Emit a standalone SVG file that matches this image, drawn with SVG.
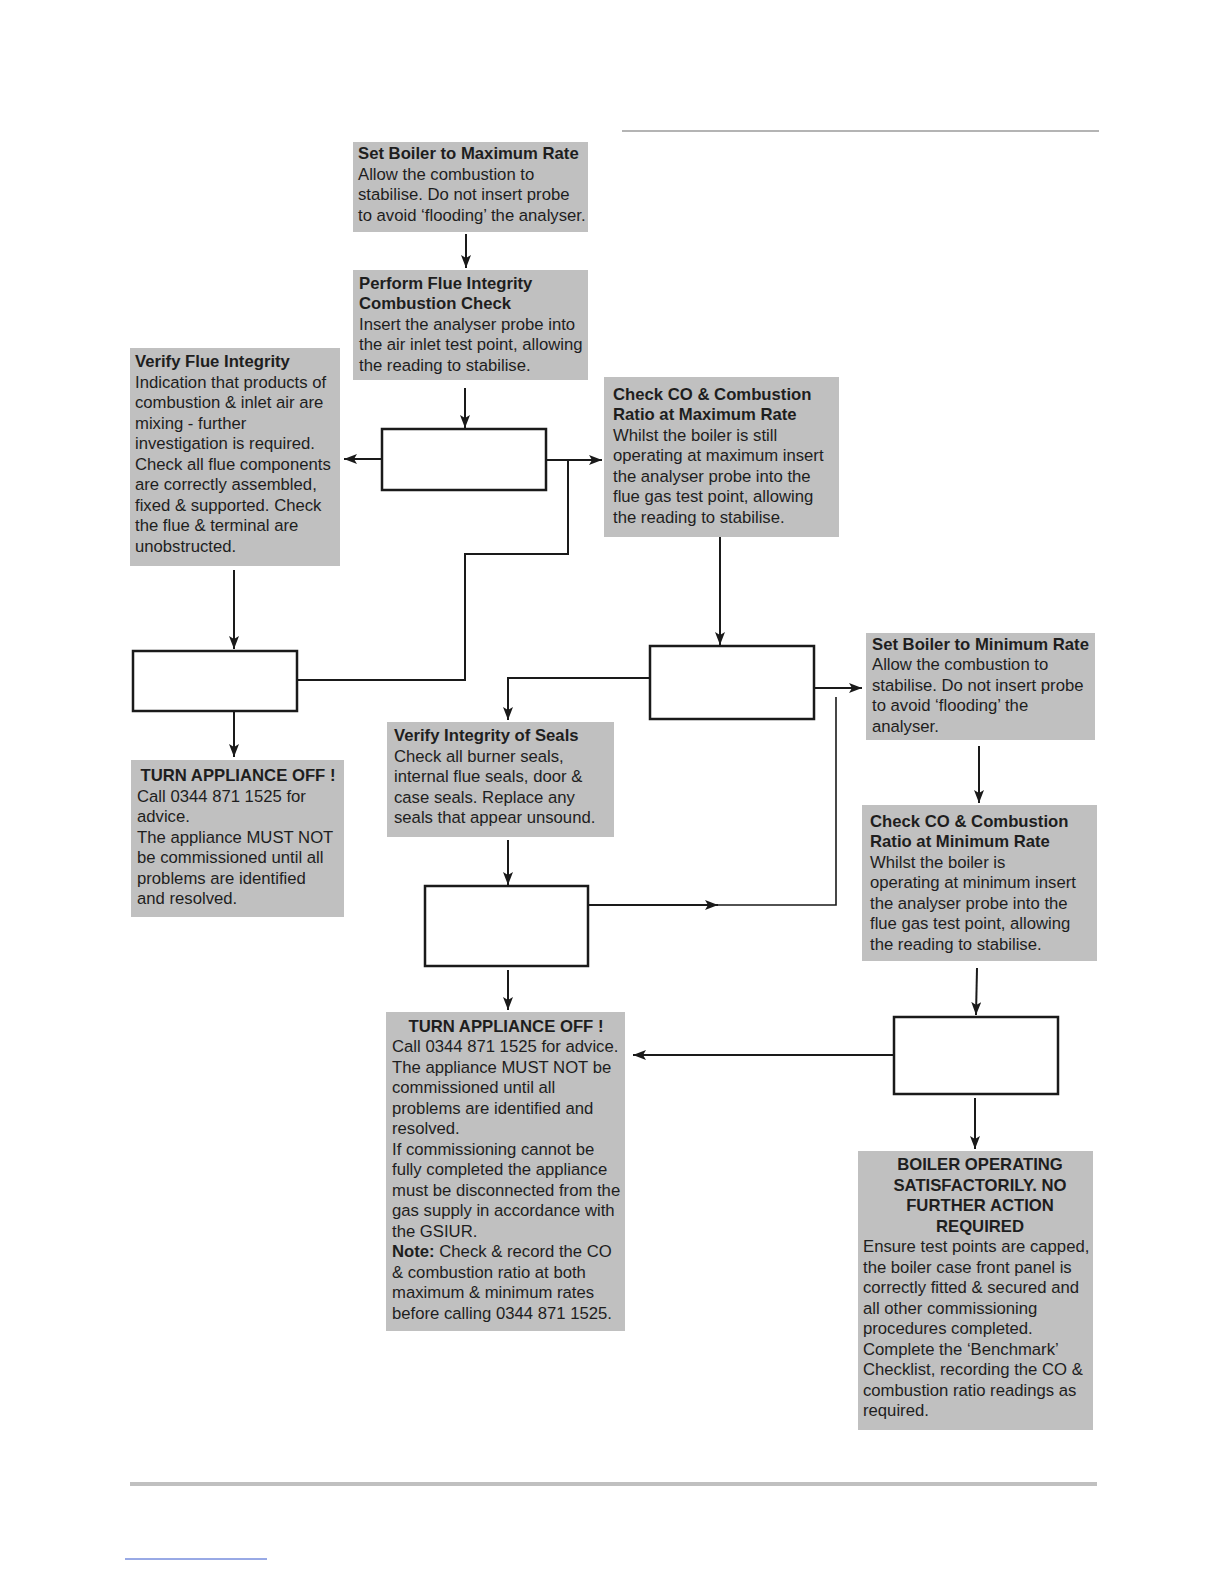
<svg xmlns="http://www.w3.org/2000/svg" width="1224" height="1584" viewBox="0 0 1224 1584">
<style>
.box{fill:#c0c0c0;stroke:none}
.dec{fill:#ffffff;stroke:#1a1a1a;stroke-width:2.5}
.t{font-family:"Liberation Sans",Arial,sans-serif;font-size:16.7px;fill:#1e1e1e}
.b{font-weight:bold}
.c{text-anchor:middle}
.ln{fill:none;stroke:#1a1a1a;stroke-width:2}
.thin{fill:none;stroke:#1a1a1a;stroke-width:1.6}
</style>
<defs>
<marker id="ah" viewBox="0 0 13 10" refX="13" refY="5" markerWidth="13" markerHeight="10" markerUnits="userSpaceOnUse" orient="auto">
<path d="M0,0 L13,5 L0,10 L3,5 Z" fill="#1a1a1a"/>
</marker>
</defs>
<rect width="1224" height="1584" fill="#ffffff"/>
<line x1="622" y1="131" x2="1099" y2="131" stroke="#b4b4b4" stroke-width="2"/>
<line x1="130" y1="1484" x2="1097" y2="1484" stroke="#c0c0c0" stroke-width="4"/>
<line x1="125" y1="1559" x2="267" y2="1559" stroke="#3355cc" stroke-width="1"/>

<g id="connectors">
<path class="ln" d="M466,234 V268" marker-end="url(#ah)"/>
<path class="ln" d="M465,388 V428" marker-end="url(#ah)"/>
<path class="ln" d="M382,459 H344" marker-end="url(#ah)"/>
<path class="ln" d="M546,460 H602" marker-end="url(#ah)"/>
<path class="ln" d="M568,460 V554 H465 V680 H285"/>
<path class="ln" d="M234,570 V649" marker-end="url(#ah)"/>
<path class="ln" d="M234,711 V757" marker-end="url(#ah)"/>
<path class="ln" d="M720,537 V645" marker-end="url(#ah)"/>
<path class="ln" d="M650,678 H508 V720" marker-end="url(#ah)"/>
<path class="ln" d="M814,688 H862" marker-end="url(#ah)"/>
<path class="ln" d="M588,905 H718" marker-end="url(#ah)"/>
<path class="thin" d="M716,905 H836 V697"/>
<path class="ln" d="M508,840 V885" marker-end="url(#ah)"/>
<path class="ln" d="M508,970 V1010" marker-end="url(#ah)"/>
<path class="ln" d="M979,746 V803" marker-end="url(#ah)"/>
<path class="ln" d="M977,968 L976,1015" marker-end="url(#ah)"/>
<path class="ln" d="M900,1055 H633" marker-end="url(#ah)"/>
<path class="ln" d="M975,1098 V1149" marker-end="url(#ah)"/>
</g>

<g id="set-max">
<rect class="box" x="353" y="142" width="235" height="90"/>
<text class="t" x="358"><tspan class="b" y="159">Set Boiler to Maximum Rate</tspan><tspan x="358" y="180">Allow the combustion to</tspan><tspan x="358" y="200">stabilise. Do not insert probe</tspan><tspan x="358" y="221">to avoid ‘flooding’ the analyser.</tspan></text>
</g>

<g id="flue-check">
<rect class="box" x="353" y="270" width="235" height="110"/>
<text class="t" x="359"><tspan class="b" y="289">Perform Flue Integrity</tspan><tspan class="b" x="359" y="309">Combustion Check</tspan><tspan x="359" y="330">Insert the analyser probe into</tspan><tspan x="359" y="350">the air inlet test point, allowing</tspan><tspan x="359" y="371">the reading to stabilise.</tspan></text>
</g>

<g id="decision-a"><rect class="dec" x="382" y="429" width="164" height="61"/></g>

<g id="verify-flue">
<rect class="box" x="130" y="348" width="210" height="218"/>
<text class="t" x="135"><tspan class="b" y="367">Verify Flue Integrity</tspan><tspan x="135" y="388">Indication that products of</tspan><tspan x="135" y="408">combustion &amp; inlet air are</tspan><tspan x="135" y="429">mixing - further</tspan><tspan x="135" y="449">investigation is required.</tspan><tspan x="135" y="470">Check all flue components</tspan><tspan x="135" y="490">are correctly assembled,</tspan><tspan x="135" y="511">fixed &amp; supported. Check</tspan><tspan x="135" y="531">the flue &amp; terminal are</tspan><tspan x="135" y="552">unobstructed.</tspan></text>
</g>

<g id="decision-b"><rect class="dec" x="133" y="651" width="164" height="60"/></g>

<g id="turn-off-1">
<rect class="box" x="131" y="760" width="213" height="157"/>
<text class="t"><tspan class="b c" x="238" y="781">TURN APPLIANCE OFF !</tspan><tspan x="137" y="802">Call 0344 871 1525 for</tspan><tspan x="137" y="822">advice.</tspan><tspan x="137" y="843">The appliance MUST NOT</tspan><tspan x="137" y="863">be commissioned until all</tspan><tspan x="137" y="884">problems are identified</tspan><tspan x="137" y="904">and resolved.</tspan></text>
</g>

<g id="check-max">
<rect class="box" x="604" y="377" width="235" height="160"/>
<text class="t" x="613"><tspan class="b" y="400">Check CO &amp; Combustion</tspan><tspan class="b" x="613" y="420">Ratio at Maximum Rate</tspan><tspan x="613" y="441">Whilst the boiler is still</tspan><tspan x="613" y="461">operating at maximum insert</tspan><tspan x="613" y="482">the analyser probe into the</tspan><tspan x="613" y="502">flue gas test point, allowing</tspan><tspan x="613" y="523">the reading to stabilise.</tspan></text>
</g>

<g id="decision-c"><rect class="dec" x="650" y="646" width="164" height="73"/></g>

<g id="verify-seals">
<rect class="box" x="387" y="722" width="227" height="115"/>
<text class="t" x="394"><tspan class="b" y="741">Verify Integrity of Seals</tspan><tspan x="394" y="762">Check all burner seals,</tspan><tspan x="394" y="782">internal flue seals, door &amp;</tspan><tspan x="394" y="803">case seals. Replace any</tspan><tspan x="394" y="823">seals that appear unsound.</tspan></text>
</g>

<g id="decision-d"><rect class="dec" x="425" y="886" width="163" height="80"/></g>

<g id="set-min">
<rect class="box" x="866" y="633" width="229" height="107"/>
<text class="t" x="872"><tspan class="b" y="650">Set Boiler to Minimum Rate</tspan><tspan x="872" y="670">Allow the combustion to</tspan><tspan x="872" y="691">stabilise. Do not insert probe</tspan><tspan x="872" y="711">to avoid ‘flooding’ the</tspan><tspan x="872" y="732">analyser.</tspan></text>
</g>

<g id="check-min">
<rect class="box" x="862" y="805" width="235" height="156"/>
<text class="t" x="870"><tspan class="b" y="827">Check CO &amp; Combustion</tspan><tspan class="b" x="870" y="847">Ratio at Minimum Rate</tspan><tspan x="870" y="868">Whilst the boiler is</tspan><tspan x="870" y="888">operating at minimum insert</tspan><tspan x="870" y="909">the analyser probe into the</tspan><tspan x="870" y="929">flue gas test point, allowing</tspan><tspan x="870" y="950">the reading to stabilise.</tspan></text>
</g>

<g id="decision-e"><rect class="dec" x="894" y="1017" width="164" height="77"/></g>

<g id="turn-off-2">
<rect class="box" x="386" y="1012" width="239" height="319"/>
<text class="t"><tspan class="b c" x="506" y="1032">TURN APPLIANCE OFF !</tspan><tspan x="392" y="1052">Call 0344 871 1525 for advice.</tspan><tspan x="392" y="1073">The appliance MUST NOT be</tspan><tspan x="392" y="1093">commissioned until all</tspan><tspan x="392" y="1114">problems are identified and</tspan><tspan x="392" y="1134">resolved.</tspan><tspan x="392" y="1155">If commissioning cannot be</tspan><tspan x="392" y="1175">fully completed the appliance</tspan><tspan x="392" y="1196">must be disconnected from the</tspan><tspan x="392" y="1216">gas supply in accordance with</tspan><tspan x="392" y="1237">the GSIUR.</tspan><tspan x="392" y="1257" class="b">Note:</tspan><tspan> Check &amp; record the CO</tspan><tspan x="392" y="1278">&amp; combustion ratio at both</tspan><tspan x="392" y="1298">maximum &amp; minimum rates</tspan><tspan x="392" y="1319">before calling 0344 871 1525.</tspan></text>
</g>

<g id="boiler-ok">
<rect class="box" x="858" y="1151" width="235" height="279"/>
<text class="t"><tspan class="b c" x="980" y="1170">BOILER OPERATING</tspan><tspan class="b c" x="980" y="1191">SATISFACTORILY. NO</tspan><tspan class="b c" x="980" y="1211">FURTHER ACTION</tspan><tspan class="b c" x="980" y="1232">REQUIRED</tspan><tspan x="863" y="1252">Ensure test points are capped,</tspan><tspan x="863" y="1273">the boiler case front panel is</tspan><tspan x="863" y="1293">correctly fitted &amp; secured and</tspan><tspan x="863" y="1314">all other commissioning</tspan><tspan x="863" y="1334">procedures completed.</tspan><tspan x="863" y="1355">Complete the ‘Benchmark’</tspan><tspan x="863" y="1375">Checklist, recording the CO &amp;</tspan><tspan x="863" y="1396">combustion ratio readings as</tspan><tspan x="863" y="1416">required.</tspan></text>
</g>
</svg>
